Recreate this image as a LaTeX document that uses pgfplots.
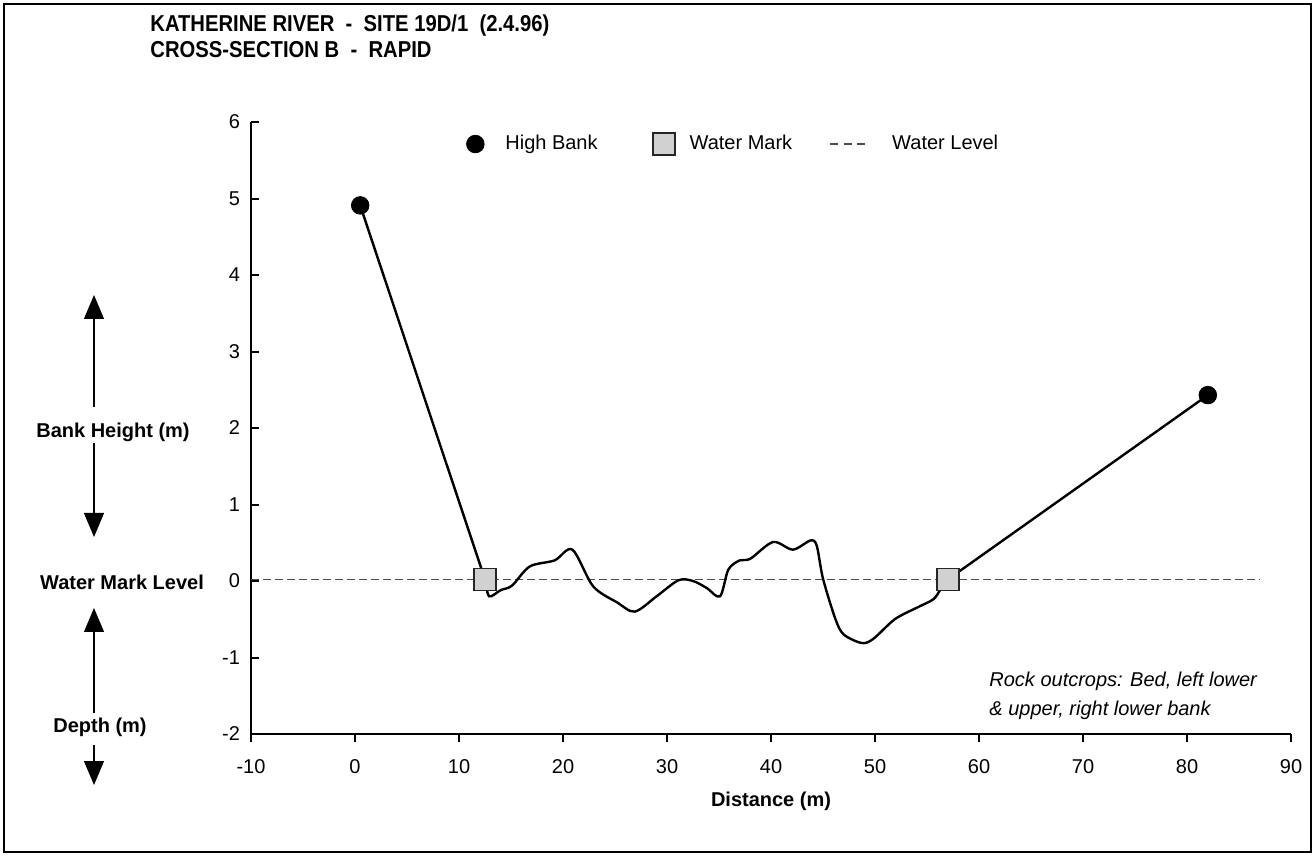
\documentclass[border=0pt]{standalone}
\usepackage{fontspec}
\setmainfont{Liberation Sans}
\usepackage{pgfplots}
\pgfplotsset{compat=1.18}
\usetikzlibrary{arrows.meta}

\pgfplotsset{
  hb legend/.style={legend image code/.code={\path[draw=none, fill=none] (0pt,0pt) -- (19.5pt,0pt);
    \draw[##1] plot coordinates {(4.5pt,0pt)};}},
  wm legend/.style={legend image code/.code={\path[draw=none, fill=none] (0pt,0pt) -- (46pt,0pt);
    \draw[##1] plot coordinates {(33pt,0pt)};}},
  wl legend/.style={legend image code/.code={\path[draw=none, fill=none] (0pt,0pt) -- (50pt,0pt);
    \draw[##1, dash pattern=on 4pt off 2.75pt] (19pt,0pt) -- (36.5pt,0pt);}},
}

% river bed profile between the two water marks
\pgfplotstableread{
x y
12.5 0.02
12.9 -0.20
14.0 -0.12
15.1 -0.06
16.8 0.19
19.2 0.27
20.9 0.41
22.9 -0.07
25.2 -0.28
26.9 -0.40
29.0 -0.20
31.1 0.01
32.5 0.00
33.8 -0.09
35.1 -0.20
35.9 0.15
37.0 0.27
38.0 0.29
40.2 0.51
42.1 0.41
43.8 0.53
44.4 0.46
45.0 0.03
46.2 -0.50
47.0 -0.70
48.7 -0.81
49.8 -0.76
51.9 -0.50
54.0 -0.35
55.6 -0.24
56.3 -0.11
57.0 0.02
}\bedprofile

\begin{document}
\begin{tikzpicture}[x=0.5pt,y=0.5pt]
\path (0,0) rectangle (1315,856);
\draw[line width=1.25pt] (4,4) rectangle (1311,852);
\begin{axis}[
  at={(125.5pt,61pt)}, anchor=south west,
  scale only axis, width=520pt, height=306pt,
  xmin=-10, xmax=90, ymin=-2, ymax=6,
  axis x line*=bottom, axis y line*=left,
  axis line style={line width=1pt},
  xtick={-10,0,...,90}, ytick={-2,-1,...,6},
  tick align=inside, major tick length=4pt,
  tick style={line width=1pt, black},
  every major x tick/.append style={yshift=-4pt},
  tick label style={font=\fontsize{10}{12}\selectfont},
  /pgf/number format/assume math mode=true,
  xticklabel style={yshift=-9pt},
  yticklabel style={xshift=-2pt},
  xlabel={\textbf{Distance (m)}},
  xlabel style={at={(axis description cs:0.5,-0.1095)}, anchor=center, font=\fontsize{10}{12}\selectfont},
  legend columns=3,
  legend cell align=left,
  legend style={draw=none, fill=none, inner sep=0pt, column sep=0pt,
    at={(axis description cs:0.2067,0.964)}, anchor=west,
    nodes={inner sep=0pt}, font=\fontsize{10}{12}\selectfont},
]
\addlegendimage{hb legend, only marks, mark=*, mark size=4.4pt, black}
\addlegendentry{High Bank}
\addlegendimage{wm legend, only marks, mark=square*, mark size=5.5pt,
  mark options={fill=black!18, draw=black!85, line width=0.9pt}}
\addlegendentry{Water Mark}
\addlegendimage{wl legend, line width=0.7pt, black!70}
\addlegendentry{Water Level}
% water level
\addplot[line width=0.7pt, black!70, dash pattern=on 4pt off 2pt, forget plot]
  coordinates {(-10,0.02) (87,0.02)};
% straight bank lines
\addplot[line width=1.2pt, black, forget plot] coordinates {(0.5,4.91) (12.5,0.02)};
\addplot[line width=1.2pt, black, forget plot] coordinates {(57.0,0.02) (82.0,2.43)};
% bed
\addplot[line width=1.2pt, black, smooth, tension=0.5, forget plot] table {\bedprofile};
% high bank
\addplot[only marks, mark=*, mark size=4.4pt, black, forget plot]
  coordinates {(0.5,4.91) (82.0,2.43)};
% water marks
\addplot[only marks, mark=square*, mark size=5.5pt, forget plot,
  mark options={fill=black!18, draw=black!85, line width=0.9pt}]
  coordinates {(12.5,0.02) (57.0,0.02)};
\end{axis}

% title
\node[anchor=north west, align=left, font=\bfseries\fontsize{11.5}{13}\selectfont, inner sep=0pt]
  at (150,842) {\scalebox{0.88}[1]{KATHERINE RIVER~~-~~SITE 19D/1~~(2.4.96)}\\
    \scalebox{0.88}[1]{CROSS-SECTION B~~-~~RAPID}};

% left side labels
\begin{scope}[font=\bfseries\fontsize{10}{12}\selectfont]
\node at (113,424) {Bank Height (m)};
\node at (122,274) {Water Mark Level};
\node at (100,129) {Depth (m)};
\end{scope}
\begin{scope}[line width=0.6pt, -{Triangle[width=10pt,length=12pt]}]
\draw (94,449) -- (94,561);
\draw (94,413) -- (94,319);
\draw (94,143) -- (94,248);
\draw (94,111) -- (94,71);
\end{scope}

% note
\node[anchor=north west, align=left, font=\itshape\fontsize{10}{14.5}\selectfont, inner sep=0pt]
  at (989,184) {Rock outcrops: Bed, left lower\\\& upper, right lower bank};
\end{tikzpicture}
\end{document}
